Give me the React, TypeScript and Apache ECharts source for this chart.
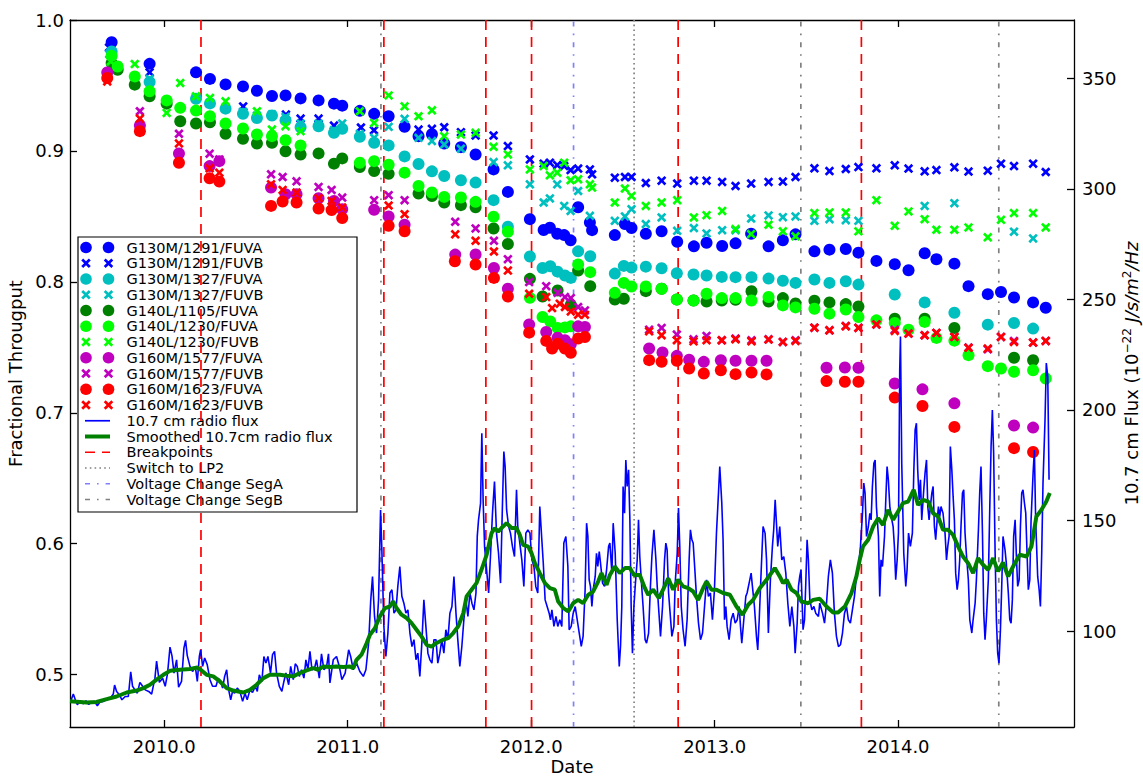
import React, { useEffect, useRef } from 'react';
import * as echarts from 'echarts';

// ---------- reference lines (decimal year) ----------
const breakpoints = [2010.2, 2011.197, 2011.753, 2012.002, 2012.801, 2013.8];
const switchLP2 = [2012.561];
const voltageSegA = [2012.231];
const voltageSegB = [2011.181, 2013.47, 2014.549];

// ---------- ticks ----------
const xTicks = [2010, 2011, 2012, 2013, 2014];
const leftTicks = [0.5, 0.6, 0.7, 0.8, 0.9, 1.0];
const rightTicks = [100, 150, 200, 250, 300, 350];

// ---------- throughput series [year, fraction] ----------
const g130m1291A = [
  [2009.713, 0.983], [2009.92, 0.9665], [2010.173, 0.96], [2010.249, 0.955], [2010.334, 0.9508], [2010.429, 0.9493],
  [2010.505, 0.946], [2010.587, 0.942], [2010.661, 0.9424], [2010.743, 0.9401], [2010.841, 0.9386], [2010.925, 0.9361],
  [2010.97, 0.9346], [2011.066, 0.9306], [2011.144, 0.9283], [2011.223, 0.9265], [2011.31, 0.9184], [2011.386, 0.9113],
  [2011.459, 0.9128], [2011.526, 0.9057], [2011.617, 0.9029], [2011.697, 0.8973], [2011.795, 0.8859], [2011.873, 0.8687],
  [2011.993, 0.8479], [2012.068, 0.8396], [2012.102, 0.8413], [2012.142, 0.8367], [2012.18, 0.8357], [2012.215, 0.8317],
  [2012.256, 0.857], [2012.32, 0.8454], [2012.332, 0.8395], [2012.456, 0.8357], [2012.511, 0.8441], [2012.547, 0.8411],
  [2012.625, 0.8367], [2012.711, 0.8386], [2012.796, 0.8306], [2012.887, 0.8271], [2012.956, 0.8299], [2013.041, 0.8274],
  [2013.114, 0.8294], [2013.199, 0.8367], [2013.294, 0.8271], [2013.372, 0.8318], [2013.441, 0.8363], [2013.544, 0.8233],
  [2013.626, 0.8246], [2013.715, 0.8251], [2013.784, 0.8223], [2013.882, 0.816], [2013.982, 0.8135], [2014.057, 0.8089],
  [2014.145, 0.8218], [2014.209, 0.8173], [2014.307, 0.8139], [2014.384, 0.7967], [2014.489, 0.7906], [2014.561, 0.7922],
  [2014.632, 0.7881], [2014.736, 0.7843], [2014.805, 0.7802],
];
const g130m1291B = [
  [2009.699, 0.979], [2009.92, 0.96], [2010.43, 0.934], [2010.663, 0.9278], [2010.743, 0.9247], [2010.841, 0.9247],
  [2010.925, 0.9194], [2011.072, 0.9179], [2011.143, 0.9158], [2011.386, 0.9163], [2011.459, 0.9169], [2011.526, 0.9181],
  [2011.617, 0.9143], [2011.697, 0.9118], [2011.795, 0.9118], [2011.873, 0.9037], [2011.993, 0.8935], [2012.068, 0.8903],
  [2012.102, 0.891], [2012.142, 0.8892], [2012.18, 0.8884], [2012.215, 0.8854], [2012.256, 0.8865], [2012.32, 0.8859],
  [2012.332, 0.8821], [2012.456, 0.8796], [2012.511, 0.8801], [2012.547, 0.8801], [2012.625, 0.8755], [2012.711, 0.8773],
  [2012.796, 0.8751], [2012.887, 0.8773], [2012.956, 0.8773], [2013.041, 0.8763], [2013.114, 0.8732], [2013.199, 0.8751],
  [2013.294, 0.8763], [2013.372, 0.8766], [2013.441, 0.8801], [2013.544, 0.8867], [2013.626, 0.8846], [2013.715, 0.8862],
  [2013.784, 0.8877], [2013.882, 0.8867], [2013.982, 0.889], [2014.057, 0.8865], [2014.145, 0.8844], [2014.209, 0.8854],
  [2014.307, 0.8875], [2014.384, 0.8842], [2014.489, 0.8849], [2014.561, 0.8903], [2014.632, 0.8884], [2014.736, 0.8903],
  [2014.805, 0.8839],
];
const g130m1327A = [
  [2009.713, 0.9759], [2009.92, 0.9526], [2010.173, 0.9399], [2010.249, 0.9363], [2010.334, 0.9323], [2010.429, 0.9283],
  [2010.505, 0.9252], [2010.587, 0.927], [2010.661, 0.9234], [2010.743, 0.9181], [2010.841, 0.9189], [2010.925, 0.9138],
  [2010.97, 0.9169], [2011.066, 0.9108], [2011.144, 0.9062], [2011.223, 0.9042], [2011.31, 0.8958], [2011.386, 0.89],
  [2011.459, 0.8844], [2011.526, 0.8808], [2011.617, 0.8776], [2011.697, 0.8758], [2011.795, 0.8624], [2011.873, 0.8421],
  [2011.993, 0.8194], [2012.062, 0.8106], [2012.104, 0.8119], [2012.144, 0.8078], [2012.184, 0.8048], [2012.216, 0.803],
  [2012.256, 0.8233], [2012.322, 0.8195], [2012.456, 0.8063], [2012.505, 0.8122], [2012.547, 0.8109], [2012.625, 0.8116],
  [2012.711, 0.8104], [2012.794, 0.8066], [2012.885, 0.8056], [2012.956, 0.8048], [2013.039, 0.8038], [2013.114, 0.8036],
  [2013.201, 0.8036], [2013.294, 0.8025], [2013.372, 0.8008], [2013.441, 0.7992], [2013.544, 0.8018], [2013.626, 0.7992],
  [2013.715, 0.8005], [2013.784, 0.7979], [2013.982, 0.7903], [2014.145, 0.7843], [2014.307, 0.7764], [2014.489, 0.7673],
  [2014.632, 0.7686], [2014.736, 0.7643],
];
const g130m1327B = [
  [2009.7, 0.974], [2009.92, 0.955], [2010.173, 0.941], [2010.249, 0.937], [2010.334, 0.933], [2010.429, 0.93],
  [2010.505, 0.927], [2010.587, 0.928], [2010.661, 0.926], [2010.743, 0.921], [2010.841, 0.921], [2010.925, 0.916],
  [2010.97, 0.921], [2011.066, 0.913], [2011.144, 0.91], [2011.223, 0.9184], [2011.31, 0.9245], [2011.386, 0.91],
  [2011.459, 0.9075], [2011.526, 0.9049], [2011.617, 0.9017], [2011.795, 0.8915], [2011.873, 0.889], [2011.993, 0.8745],
  [2012.068, 0.8606], [2012.102, 0.8637], [2012.142, 0.8745], [2012.18, 0.858], [2012.215, 0.8542], [2012.256, 0.8694],
  [2012.32, 0.8504], [2012.456, 0.8466], [2012.511, 0.85], [2012.547, 0.8555], [2012.625, 0.8441], [2012.711, 0.8492],
  [2012.796, 0.839], [2012.887, 0.8411], [2012.956, 0.837], [2013.041, 0.8395], [2013.114, 0.8395], [2013.199, 0.8484],
  [2013.294, 0.8507], [2013.372, 0.8494], [2013.441, 0.85], [2013.544, 0.8466], [2013.626, 0.8479], [2013.715, 0.8471],
  [2013.784, 0.8466], [2014.145, 0.858], [2014.307, 0.8601], [2014.632, 0.8383], [2014.736, 0.8332],
];
const g140l1105A = [
  [2009.713, 0.9671], [2009.746, 0.962], [2009.839, 0.9506], [2009.92, 0.9417], [2010.013, 0.9361], [2010.087, 0.9227],
  [2010.173, 0.9209], [2010.249, 0.9219], [2010.334, 0.9131], [2010.429, 0.9093], [2010.505, 0.9057], [2010.587, 0.9062],
  [2010.661, 0.8998], [2010.743, 0.8973], [2010.841, 0.8981], [2010.925, 0.8903], [2010.97, 0.8943], [2011.066, 0.8877],
  [2011.144, 0.8846], [2011.223, 0.8825], [2011.386, 0.8675], [2011.459, 0.8656], [2011.526, 0.8606], [2011.617, 0.8586],
  [2011.697, 0.857], [2011.795, 0.8408], [2011.873, 0.8289], [2011.993, 0.8023], [2012.062, 0.7888], [2012.144, 0.7934],
  [2012.216, 0.7825], [2012.256, 0.8086], [2012.322, 0.7967], [2012.456, 0.7865], [2012.505, 0.7871], [2012.625, 0.7929],
  [2012.711, 0.7947], [2012.794, 0.7865], [2012.885, 0.7858], [2012.956, 0.785], [2013.039, 0.7858], [2013.114, 0.7863],
  [2013.201, 0.7929], [2013.294, 0.785], [2013.372, 0.7876], [2013.441, 0.7835], [2013.544, 0.7856], [2013.626, 0.7843],
  [2013.715, 0.783], [2013.784, 0.7812], [2013.982, 0.7719], [2014.145, 0.7719], [2014.307, 0.7648], [2014.632, 0.742],
  [2014.736, 0.7401],
];
const g140l1230A = [
  [2009.713, 0.9726], [2009.746, 0.9645], [2009.839, 0.9569], [2009.92, 0.9455], [2010.013, 0.9386], [2010.087, 0.9329],
  [2010.173, 0.9308], [2010.249, 0.9265], [2010.334, 0.9209], [2010.429, 0.9171], [2010.505, 0.9125], [2010.587, 0.9113],
  [2010.661, 0.9082], [2010.743, 0.9042], [2011.066, 0.891], [2011.144, 0.8922], [2011.223, 0.8895], [2011.31, 0.8834],
  [2011.386, 0.8732], [2011.459, 0.8682], [2011.526, 0.8649], [2011.617, 0.8644], [2011.697, 0.8611], [2011.795, 0.8497],
  [2011.873, 0.8383], [2011.993, 0.7878], [2012.062, 0.7732], [2012.104, 0.7698], [2012.144, 0.7648], [2012.184, 0.7652],
  [2012.216, 0.766], [2012.256, 0.8132], [2012.322, 0.8074], [2012.456, 0.7916], [2012.505, 0.7992], [2012.547, 0.7964],
  [2012.625, 0.7964], [2012.711, 0.7947], [2012.794, 0.7865], [2012.885, 0.7858], [2012.956, 0.7909], [2013.039, 0.7876],
  [2013.114, 0.7876], [2013.201, 0.7858], [2013.294, 0.7884], [2013.372, 0.782], [2013.441, 0.7805], [2013.544, 0.7795],
  [2013.626, 0.7757], [2013.715, 0.7789], [2013.784, 0.7732], [2013.882, 0.7706], [2013.982, 0.7686], [2014.057, 0.7635],
  [2014.145, 0.7694], [2014.209, 0.7572], [2014.307, 0.7551], [2014.384, 0.744], [2014.489, 0.7356], [2014.561, 0.7338],
  [2014.632, 0.7313], [2014.736, 0.7325], [2014.805, 0.7262],
];
const g140l1230B = [
  [2009.708, 0.9683], [2009.839, 0.9663], [2010.013, 0.929], [2010.087, 0.9519], [2010.173, 0.9417], [2010.249, 0.9405],
  [2010.334, 0.9379], [2010.505, 0.9303], [2010.587, 0.9163], [2010.661, 0.9189], [2010.743, 0.9151], [2011.066, 0.9303],
  [2011.144, 0.9214], [2011.223, 0.9424], [2011.31, 0.9341], [2011.386, 0.9265], [2011.459, 0.931], [2011.526, 0.9113],
  [2011.617, 0.9125], [2011.697, 0.9138], [2011.795, 0.9032], [2011.873, 0.8973], [2011.993, 0.8859], [2012.068, 0.8884],
  [2012.102, 0.8814], [2012.142, 0.8834], [2012.18, 0.891], [2012.215, 0.8776], [2012.256, 0.8783], [2012.32, 0.8745],
  [2012.332, 0.872], [2012.456, 0.8606], [2012.511, 0.8713], [2012.547, 0.8656], [2012.625, 0.858], [2012.711, 0.8606],
  [2012.796, 0.8624], [2012.887, 0.8492], [2012.956, 0.8509], [2013.041, 0.8542], [2013.114, 0.8403], [2013.199, 0.8365],
  [2013.294, 0.8436], [2013.372, 0.8386], [2013.441, 0.8348], [2013.544, 0.8525], [2013.626, 0.853], [2013.715, 0.853],
  [2013.784, 0.8386], [2013.882, 0.8624], [2013.982, 0.8428], [2014.057, 0.8538], [2014.145, 0.8479], [2014.209, 0.8398],
  [2014.307, 0.8398], [2014.384, 0.8416], [2014.489, 0.834], [2014.561, 0.8474], [2014.632, 0.8525], [2014.736, 0.8525],
  [2014.805, 0.8416],
];
const g160m1577A = [
  [2009.689, 0.9599], [2009.867, 0.9194], [2010.08, 0.8981], [2010.247, 0.8884], [2010.3, 0.8922], [2010.582, 0.872],
  [2010.661, 0.8669], [2010.721, 0.8669], [2010.841, 0.8639], [2010.925, 0.8618], [2010.97, 0.8555], [2011.144, 0.855],
  [2011.223, 0.85], [2011.31, 0.8436], [2011.586, 0.8208], [2011.697, 0.8209], [2011.797, 0.8106], [2011.873, 0.7947],
  [2011.989, 0.7675], [2012.082, 0.7617], [2012.144, 0.7574], [2012.184, 0.7554], [2012.216, 0.7523], [2012.256, 0.766],
  [2012.293, 0.7656], [2012.643, 0.7491], [2012.716, 0.746], [2012.794, 0.7435], [2012.861, 0.7405], [2012.941, 0.7389],
  [2013.034, 0.7402], [2013.114, 0.7397], [2013.201, 0.7397], [2013.283, 0.7397], [2013.61, 0.7344], [2013.71, 0.7346],
  [2013.784, 0.7344], [2013.982, 0.7224], [2014.133, 0.7179], [2014.307, 0.7072], [2014.632, 0.6903], [2014.736, 0.6887],
];
const g160m1577B = [
  [2009.867, 0.9303], [2010.08, 0.9131], [2010.247, 0.8979], [2010.3, 0.8935], [2010.582, 0.8821], [2010.645, 0.8801],
  [2010.721, 0.8768], [2010.841, 0.8725], [2010.912, 0.8702], [2010.97, 0.8644], [2011.144, 0.8624], [2011.223, 0.8662],
  [2011.31, 0.8624], [2011.586, 0.8459], [2011.697, 0.8408], [2011.797, 0.8314], [2011.873, 0.8173], [2011.989, 0.7998],
  [2012.082, 0.7967], [2012.144, 0.7916], [2012.184, 0.7884], [2012.216, 0.7876], [2012.256, 0.7808], [2012.293, 0.7782],
  [2012.643, 0.7635], [2012.711, 0.7648], [2012.794, 0.7597], [2012.885, 0.7561], [2012.956, 0.7587], [2013.039, 0.7554],
  [2013.114, 0.7567], [2013.201, 0.7554], [2013.294, 0.7561], [2013.372, 0.7541], [2013.441, 0.7554], [2013.544, 0.765],
  [2013.626, 0.763], [2013.715, 0.7663], [2013.784, 0.765], [2013.882, 0.7675], [2013.982, 0.7635], [2014.057, 0.7605],
  [2014.145, 0.7592], [2014.209, 0.761], [2014.307, 0.7579], [2014.384, 0.7498], [2014.489, 0.7485], [2014.561, 0.7579],
  [2014.632, 0.7549], [2014.736, 0.7536], [2014.805, 0.7549],
];
const g160m1623A = [
  [2009.689, 0.9557], [2009.867, 0.9151], [2010.08, 0.891], [2010.247, 0.8791], [2010.3, 0.8766], [2010.582, 0.858],
  [2010.645, 0.8614], [2010.721, 0.8606], [2010.841, 0.856], [2010.912, 0.8548], [2010.97, 0.8487], [2011.223, 0.8428],
  [2011.31, 0.8386], [2011.584, 0.8157], [2011.697, 0.8132], [2011.797, 0.803], [2011.873, 0.7888], [2011.989, 0.7612],
  [2012.082, 0.7549], [2012.114, 0.749], [2012.144, 0.7528], [2012.184, 0.749], [2012.216, 0.7458], [2012.256, 0.7567],
  [2012.293, 0.7579], [2012.643, 0.7402], [2012.711, 0.7389], [2012.794, 0.7397], [2012.861, 0.7338], [2012.941, 0.73],
  [2013.034, 0.7325], [2013.114, 0.7295], [2013.201, 0.7308], [2013.283, 0.7293], [2013.61, 0.7242], [2013.71, 0.7237],
  [2013.784, 0.7237], [2013.982, 0.7116], [2014.133, 0.7052], [2014.307, 0.6892], [2014.632, 0.673], [2014.736, 0.67],
];
const g160m1623B = [
  [2009.689, 0.9531], [2009.867, 0.9247], [2010.08, 0.9057], [2010.247, 0.8867], [2010.3, 0.8834], [2010.582, 0.8745],
  [2010.645, 0.8702], [2010.721, 0.8682], [2010.841, 0.8639], [2010.912, 0.8618], [2010.97, 0.8568], [2011.223, 0.8583],
  [2011.31, 0.8517], [2011.586, 0.8363], [2011.697, 0.8314], [2011.797, 0.8232], [2011.873, 0.8086], [2011.989, 0.7909],
  [2012.082, 0.7884], [2012.114, 0.78], [2012.156, 0.7833], [2012.184, 0.7808], [2012.216, 0.7774], [2012.256, 0.7749],
  [2012.293, 0.7749], [2012.643, 0.7622], [2012.711, 0.7592], [2012.794, 0.7554], [2012.885, 0.7546], [2012.956, 0.7554],
  [2013.039, 0.7554], [2013.114, 0.7561], [2013.201, 0.7546], [2013.294, 0.7559], [2013.372, 0.7541], [2013.441, 0.7549],
  [2013.544, 0.765], [2013.626, 0.763], [2013.715, 0.766], [2013.784, 0.7648], [2013.882, 0.7675], [2013.982, 0.7625],
  [2014.057, 0.7605], [2014.145, 0.7592], [2014.209, 0.761], [2014.307, 0.7579], [2014.384, 0.7496], [2014.489, 0.749],
  [2014.561, 0.7579], [2014.632, 0.7541], [2014.736, 0.7536], [2014.805, 0.7549],
];

// ---------- 10.7 cm radio flux [year, flux] ----------
const radioFlux = [
  [2009.49, 68.2], [2009.504, 71.5], [2009.515, 68.9], [2009.526, 66.7], [2009.54, 68.2], [2009.559, 67.1], [2009.573, 68.5],
  [2009.588, 66.8], [2009.604, 67.7], [2009.619, 68.2], [2009.635, 66.2], [2009.649, 67.9], [2009.668, 68.2], [2009.686, 68.9],
  [2009.704, 69.4], [2009.722, 71.5], [2009.729, 75.6], [2009.74, 72.7], [2009.755, 71.2], [2009.769, 68.9], [2009.787, 70.4],
  [2009.804, 70.4], [2009.817, 81.6], [2009.827, 75.0], [2009.84, 73.4], [2009.853, 71.9], [2009.867, 76.8], [2009.882, 75.0],
  [2009.896, 73.4], [2009.915, 72.7], [2009.931, 71.5], [2009.949, 78.7], [2009.958, 86.4], [2009.973, 76.8], [2009.991, 78.7],
  [2010.005, 75.0], [2010.018, 81.0], [2010.031, 92.7], [2010.042, 88.8], [2010.053, 81.0], [2010.067, 87.0], [2010.078, 74.6],
  [2010.094, 77.2], [2010.107, 92.3], [2010.116, 95.8], [2010.125, 89.0], [2010.14, 84.0], [2010.154, 81.7], [2010.169, 84.0],
  [2010.18, 77.2], [2010.191, 88.5], [2010.198, 91.5], [2010.209, 84.0], [2010.22, 87.8], [2010.234, 84.8], [2010.249, 78.0],
  [2010.263, 75.0], [2010.282, 75.0], [2010.294, 78.7], [2010.307, 77.2], [2010.318, 74.2], [2010.329, 79.5], [2010.34, 82.5],
  [2010.351, 73.4], [2010.362, 68.9], [2010.372, 72.7], [2010.383, 71.9], [2010.398, 74.2], [2010.412, 72.7], [2010.427, 68.2],
  [2010.44, 71.9], [2010.452, 68.9], [2010.467, 73.4], [2010.481, 72.2], [2010.496, 75.0], [2010.507, 72.7], [2010.518, 80.2],
  [2010.532, 77.2], [2010.543, 88.5], [2010.554, 85.5], [2010.565, 88.5], [2010.579, 81.0], [2010.59, 89.3], [2010.601, 90.8],
  [2010.612, 81.0], [2010.627, 75.0], [2010.641, 72.7], [2010.652, 77.2], [2010.663, 81.0], [2010.678, 75.7], [2010.689, 84.0],
  [2010.703, 78.0], [2010.714, 85.2], [2010.725, 84.0], [2010.736, 79.5], [2010.748, 82.5], [2010.761, 78.7], [2010.772, 87.0],
  [2010.783, 82.5], [2010.794, 90.8], [2010.805, 82.5], [2010.819, 83.2], [2010.83, 87.0], [2010.845, 78.7], [2010.857, 89.7],
  [2010.87, 82.5], [2010.885, 84.0], [2010.895, 89.7], [2010.903, 76.5], [2010.921, 87.0], [2010.939, 88.5], [2010.954, 84.0],
  [2010.968, 78.0], [2010.986, 81.0], [2011.005, 91.5], [2011.016, 88.5], [2011.03, 82.5], [2011.048, 85.5], [2011.066, 81.7],
  [2011.085, 79.5], [2011.099, 82.5], [2011.114, 94.6], [2011.125, 113.4], [2011.135, 124.7], [2011.146, 106.6], [2011.157, 99.1],
  [2011.168, 114.1], [2011.179, 154.8], [2011.186, 136.7], [2011.197, 102.1], [2011.208, 88.5], [2011.219, 99.1], [2011.23, 117.2],
  [2011.241, 118.7], [2011.252, 108.1], [2011.263, 109.6], [2011.273, 120.2], [2011.284, 129.2], [2011.295, 115.7], [2011.306, 112.6],
  [2011.317, 108.1], [2011.328, 109.6], [2011.339, 99.1], [2011.35, 93.0], [2011.361, 96.1], [2011.372, 87.0], [2011.382, 90.0],
  [2011.393, 79.5], [2011.404, 94.6], [2011.415, 114.1], [2011.426, 102.1], [2011.437, 90.0], [2011.448, 87.0], [2011.459, 85.5],
  [2011.47, 96.1], [2011.481, 96.1], [2011.491, 85.5], [2011.502, 90.0], [2011.513, 96.1], [2011.524, 90.0], [2011.535, 100.6],
  [2011.546, 96.1], [2011.557, 108.1], [2011.568, 111.1], [2011.579, 124.7], [2011.59, 108.1], [2011.6, 96.1], [2011.611, 84.0],
  [2011.622, 93.0], [2011.633, 105.1], [2011.644, 114.1], [2011.655, 106.6], [2011.666, 117.2], [2011.677, 112.6], [2011.688, 109.6],
  [2011.699, 117.2], [2011.706, 142.8], [2011.713, 150.3], [2011.724, 157.8], [2011.731, 189.5], [2011.738, 159.3], [2011.746, 138.2],
  [2011.757, 127.7], [2011.768, 117.2], [2011.778, 133.7], [2011.789, 153.3], [2011.8, 167.6], [2011.811, 144.3], [2011.822, 135.2],
  [2011.833, 121.7], [2011.844, 159.3], [2011.851, 181.2], [2011.858, 174.4], [2011.866, 154.8], [2011.877, 147.3], [2011.887, 144.3],
  [2011.898, 138.2], [2011.909, 133.7], [2011.92, 163.9], [2011.927, 147.3], [2011.938, 139.8], [2011.949, 132.2], [2011.96, 120.2],
  [2011.971, 144.3], [2011.982, 145.8], [2011.993, 144.3], [2012.004, 132.2], [2012.015, 129.2], [2012.025, 120.2], [2012.036, 117.2],
  [2012.047, 156.3], [2012.058, 141.3], [2012.066, 130.7], [2012.076, 114.1], [2012.087, 111.1], [2012.098, 108.1], [2012.105, 105.1],
  [2012.113, 109.6], [2012.124, 102.1], [2012.135, 106.6], [2012.145, 102.1], [2012.156, 105.1], [2012.167, 102.1], [2012.178, 139.8],
  [2012.189, 142.8], [2012.2, 129.2], [2012.207, 100.6], [2012.218, 102.1], [2012.229, 108.1], [2012.24, 111.1], [2012.251, 105.1],
  [2012.262, 99.1], [2012.273, 93.1], [2012.283, 97.6], [2012.294, 118.7], [2012.302, 148.8], [2012.309, 142.8], [2012.316, 123.2],
  [2012.323, 120.2], [2012.331, 111.1], [2012.338, 118.7], [2012.349, 124.7], [2012.356, 135.2], [2012.363, 129.2], [2012.371, 136.0],
  [2012.378, 130.7], [2012.389, 121.7], [2012.4, 120.2], [2012.411, 127.7], [2012.422, 138.3], [2012.429, 139.8], [2012.44, 126.2],
  [2012.447, 148.8], [2012.458, 135.2], [2012.469, 105.1], [2012.48, 84.0], [2012.487, 93.1], [2012.494, 111.1], [2012.501, 165.4],
  [2012.509, 153.3], [2012.516, 177.4], [2012.523, 165.4], [2012.531, 172.9], [2012.538, 150.3], [2012.545, 111.1], [2012.552, 90.0],
  [2012.56, 111.1], [2012.567, 120.2], [2012.578, 132.2], [2012.585, 150.3], [2012.592, 133.7], [2012.6, 123.2], [2012.61, 111.1],
  [2012.621, 96.1], [2012.629, 94.5], [2012.64, 99.1], [2012.65, 120.2], [2012.658, 133.7], [2012.669, 145.8], [2012.68, 132.2],
  [2012.687, 120.2], [2012.694, 111.1], [2012.705, 97.6], [2012.716, 111.1], [2012.727, 132.2], [2012.734, 139.8], [2012.741, 136.8],
  [2012.749, 117.2], [2012.756, 109.6], [2012.767, 97.6], [2012.778, 102.1], [2012.785, 121.7], [2012.796, 135.2], [2012.803, 155.6],
  [2012.81, 138.3], [2012.818, 111.1], [2012.828, 100.6], [2012.839, 93.1], [2012.85, 105.1], [2012.861, 132.2], [2012.868, 145.8],
  [2012.876, 141.3], [2012.883, 139.8], [2012.89, 130.7], [2012.901, 115.7], [2012.912, 103.6], [2012.923, 96.1], [2012.934, 99.1],
  [2012.945, 111.1], [2012.956, 123.2], [2012.966, 115.7], [2012.977, 117.2], [2012.988, 105.1], [2012.999, 118.7], [2013.01, 144.3],
  [2013.021, 162.4], [2013.028, 174.4], [2013.039, 157.9], [2013.046, 141.3], [2013.054, 105.1], [2013.061, 111.1], [2013.068, 102.1],
  [2013.079, 96.1], [2013.09, 105.1], [2013.101, 108.1], [2013.112, 103.6], [2013.123, 105.1], [2013.134, 111.1], [2013.141, 102.1],
  [2013.148, 94.5], [2013.159, 105.1], [2013.17, 115.7], [2013.177, 117.2], [2013.188, 121.7], [2013.199, 126.2], [2013.206, 120.2],
  [2013.217, 111.1], [2013.228, 97.6], [2013.235, 91.5], [2013.243, 105.1], [2013.254, 127.7], [2013.264, 147.3], [2013.275, 144.3],
  [2013.283, 132.2], [2013.293, 99.1], [2013.304, 123.2], [2013.315, 138.3], [2013.322, 145.8], [2013.33, 159.4], [2013.337, 148.8],
  [2013.344, 138.3], [2013.355, 147.3], [2013.366, 132.2], [2013.377, 133.7], [2013.388, 126.2], [2013.399, 112.6], [2013.41, 102.1],
  [2013.421, 111.1], [2013.432, 102.1], [2013.439, 90.0], [2013.45, 103.6], [2013.457, 120.2], [2013.464, 124.7], [2013.471, 127.7],
  [2013.482, 100.6], [2013.49, 105.1], [2013.497, 121.7], [2013.504, 141.3], [2013.511, 132.2], [2013.519, 114.1], [2013.53, 109.6],
  [2013.541, 111.1], [2013.551, 108.1], [2013.566, 106.6], [2013.573, 112.6], [2013.588, 108.1], [2013.599, 103.6], [2013.61, 112.6],
  [2013.62, 124.7], [2013.631, 132.2], [2013.642, 126.2], [2013.653, 108.1], [2013.664, 97.6], [2013.675, 93.0], [2013.686, 93.8],
  [2013.697, 99.1], [2013.708, 108.1], [2013.719, 111.1], [2013.729, 105.1], [2013.74, 103.6], [2013.751, 109.6], [2013.762, 115.6],
  [2013.773, 124.7], [2013.784, 129.2], [2013.795, 138.3], [2013.806, 153.3], [2013.813, 166.9], [2013.82, 162.4], [2013.828, 142.8],
  [2013.838, 147.3], [2013.846, 153.3], [2013.853, 150.3], [2013.86, 165.4], [2013.868, 175.9], [2013.875, 177.4], [2013.882, 156.3],
  [2013.893, 142.8], [2013.9, 115.6], [2013.907, 132.2], [2013.915, 129.2], [2013.926, 142.8], [2013.933, 159.3], [2013.94, 174.4],
  [2013.947, 168.4], [2013.955, 156.3], [2013.966, 150.3], [2013.973, 147.3], [2013.98, 138.3], [2013.987, 123.2], [2013.995, 132.2],
  [2014.002, 144.3], [2014.009, 218.1], [2014.013, 233.2], [2014.02, 175.9], [2014.031, 135.2], [2014.042, 120.2], [2014.049, 127.7],
  [2014.057, 144.3], [2014.067, 138.3], [2014.078, 144.3], [2014.086, 172.9], [2014.093, 191.0], [2014.1, 194.0], [2014.107, 172.9],
  [2014.115, 159.3], [2014.122, 168.4], [2014.129, 150.3], [2014.14, 163.9], [2014.147, 171.4], [2014.155, 177.4], [2014.162, 156.3],
  [2014.169, 150.3], [2014.176, 156.3], [2014.184, 162.4], [2014.191, 165.4], [2014.198, 147.3], [2014.205, 141.3], [2014.213, 150.3],
  [2014.22, 156.3], [2014.227, 151.8], [2014.234, 156.3], [2014.245, 153.3], [2014.256, 144.3], [2014.264, 132.2], [2014.271, 138.3],
  [2014.278, 142.8], [2014.285, 183.5], [2014.293, 172.9], [2014.3, 160.9], [2014.307, 150.3], [2014.314, 126.2], [2014.322, 118.7],
  [2014.329, 123.2], [2014.336, 132.2], [2014.343, 147.3], [2014.351, 162.4], [2014.358, 163.9], [2014.365, 144.3], [2014.372, 135.2],
  [2014.383, 123.2], [2014.391, 105.1], [2014.402, 99.1], [2014.409, 105.1], [2014.42, 112.6], [2014.427, 123.2], [2014.438, 145.8],
  [2014.445, 162.4], [2014.452, 174.4], [2014.46, 144.3], [2014.467, 108.1], [2014.474, 96.1], [2014.481, 105.1], [2014.492, 123.2],
  [2014.5, 156.3], [2014.507, 183.5], [2014.514, 200.0], [2014.521, 180.4], [2014.529, 135.2], [2014.536, 105.1], [2014.543, 90.0],
  [2014.55, 85.5], [2014.558, 100.6], [2014.565, 120.2], [2014.572, 142.8], [2014.583, 136.7], [2014.59, 130.7], [2014.601, 117.2],
  [2014.609, 105.1], [2014.616, 103.6], [2014.623, 114.1], [2014.63, 142.8], [2014.638, 150.3], [2014.645, 133.7], [2014.652, 120.2],
  [2014.66, 123.2], [2014.667, 147.3], [2014.674, 162.4], [2014.681, 163.9], [2014.689, 157.8], [2014.696, 153.3], [2014.703, 135.2],
  [2014.71, 118.7], [2014.718, 123.2], [2014.725, 150.3], [2014.736, 171.4], [2014.743, 181.9], [2014.75, 150.3], [2014.761, 124.7],
  [2014.769, 118.7], [2014.776, 111.1], [2014.783, 135.2], [2014.79, 166.9], [2014.801, 195.5], [2014.808, 221.2], [2014.816, 215.1],
  [2014.823, 168.4],
];

const smoothedFlux = [
  [2009.486, 68.2], [2009.577, 67.7], [2009.631, 67.9], [2009.686, 69.2], [2009.74, 70.4], [2009.795, 72.2], [2009.849, 73.1],
  [2009.886, 74.2], [2009.922, 75.7], [2009.958, 78.0], [2009.995, 80.2], [2010.031, 82.0], [2010.085, 82.5], [2010.14, 82.8],
  [2010.18, 83.5], [2010.203, 82.2], [2010.231, 80.2], [2010.267, 79.5], [2010.303, 77.2], [2010.34, 74.2], [2010.376, 73.1],
  [2010.431, 72.2], [2010.467, 73.4], [2010.503, 75.7], [2010.54, 78.7], [2010.576, 80.2], [2010.63, 80.2], [2010.667, 79.8],
  [2010.703, 79.5], [2010.739, 81.0], [2010.776, 82.2], [2010.812, 83.2], [2010.839, 82.5], [2010.867, 84.0], [2010.903, 83.7],
  [2010.939, 84.0], [2010.976, 83.7], [2011.012, 84.0], [2011.03, 83.2], [2011.048, 87.0], [2011.075, 89.3], [2011.103, 94.5],
  [2011.121, 98.3], [2011.148, 101.3], [2011.175, 106.6], [2011.203, 110.4], [2011.23, 111.1], [2011.248, 113.4], [2011.266, 110.4],
  [2011.293, 107.4], [2011.321, 105.9], [2011.348, 103.6], [2011.375, 100.6], [2011.402, 97.6], [2011.43, 93.8], [2011.457, 93.0],
  [2011.484, 94.6], [2011.521, 96.1], [2011.548, 96.8], [2011.575, 99.1], [2011.602, 102.1], [2011.63, 108.1], [2011.648, 115.7],
  [2011.675, 118.7], [2011.702, 121.7], [2011.729, 127.7], [2011.757, 134.5], [2011.784, 144.3], [2011.802, 146.6], [2011.82, 145.0],
  [2011.838, 146.6], [2011.866, 148.8], [2011.893, 146.6], [2011.92, 146.6], [2011.938, 143.5], [2011.956, 139.0], [2011.984, 138.2],
  [2012.002, 135.2], [2012.02, 130.7], [2012.047, 126.2], [2012.075, 121.7], [2012.102, 119.4], [2012.129, 118.7], [2012.147, 113.4],
  [2012.175, 110.4], [2012.202, 108.9], [2012.229, 112.6], [2012.256, 114.1], [2012.283, 112.6], [2012.311, 116.4], [2012.338, 117.9],
  [2012.365, 122.4], [2012.383, 126.2], [2012.411, 120.9], [2012.429, 125.4], [2012.456, 129.2], [2012.483, 126.2], [2012.511, 128.5],
  [2012.538, 128.5], [2012.56, 125.4], [2012.592, 125.4], [2012.62, 119.4], [2012.638, 116.4], [2012.665, 118.7], [2012.696, 114.9],
  [2012.719, 118.7], [2012.747, 123.9], [2012.774, 118.7], [2012.801, 123.2], [2012.828, 120.2], [2012.856, 119.4], [2012.883, 117.9],
  [2012.91, 114.1], [2012.937, 119.4], [2012.956, 122.4], [2012.983, 118.7], [2013.01, 118.7], [2013.046, 117.2], [2013.083, 116.4],
  [2013.119, 111.1], [2013.152, 107.4], [2013.183, 111.9], [2013.21, 114.1], [2013.246, 119.4], [2013.283, 123.2], [2013.328, 128.5],
  [2013.355, 124.7], [2013.373, 121.7], [2013.392, 123.2], [2013.419, 118.7], [2013.446, 117.2], [2013.473, 113.4], [2013.51, 112.6],
  [2013.537, 114.1], [2013.573, 114.6], [2013.61, 111.1], [2013.646, 108.4], [2013.673, 108.4], [2013.71, 111.1], [2013.746, 117.2],
  [2013.773, 124.7], [2013.791, 132.2], [2013.809, 138.3], [2013.837, 141.3], [2013.864, 147.3], [2013.891, 151.0], [2013.918, 148.0],
  [2013.946, 154.8], [2013.973, 150.3], [2014.0, 154.1], [2014.027, 157.9], [2014.055, 158.6], [2014.085, 163.9], [2014.109, 157.1],
  [2014.136, 159.3], [2014.164, 158.6], [2014.191, 153.3], [2014.218, 151.8], [2014.245, 145.8], [2014.273, 145.8], [2014.3, 143.5],
  [2014.327, 138.3], [2014.354, 133.7], [2014.382, 130.7], [2014.409, 126.2], [2014.436, 133.0], [2014.463, 130.0], [2014.491, 127.7],
  [2014.518, 133.0], [2014.545, 127.0], [2014.572, 131.0], [2014.6, 124.7], [2014.627, 129.2], [2014.663, 134.5], [2014.7, 133.7],
  [2014.727, 138.3], [2014.754, 151.8], [2014.781, 154.8], [2014.808, 158.6], [2014.827, 162.4],
];

// ---------- styling ----------
const FONT = 'DejaVu Sans';
const X_MIN = 2009.486;
const X_MAX = 2014.959;
const Y_MIN = 0.46;
const Y_MAX = 1.0;
const F_MIN = 56.6;
const F_MAX = 376.4;
const CROSS = 'path://M2,0L5,3L8,0L10,2L7,5L10,8L8,10L5,7L2,10L0,8L3,5L0,2Z';

const BLUE = '#0000ff';
const CYAN = '#00bfbf';
const DGREEN = '#008000';
const LIME = '#00ff00';
const MAGENTA = '#bf00bf';
const RED = '#ff0000';

const DASHED = [10, 7];
const DOTTED = [1.6, 3.2];
const DASHDOT = [5, 7, 1.6, 7];

const scatterDefs = [
  { name: 'G130M/1291/FUVA', data: g130m1291A, color: BLUE, cross: false },
  { name: 'G130M/1291/FUVB', data: g130m1291B, color: BLUE, cross: true },
  { name: 'G130M/1327/FUVA', data: g130m1327A, color: CYAN, cross: false },
  { name: 'G130M/1327/FUVB', data: g130m1327B, color: CYAN, cross: true },
  { name: 'G140L/1105/FUVA', data: g140l1105A, color: DGREEN, cross: false },
  { name: 'G140L/1230/FUVA', data: g140l1230A, color: LIME, cross: false },
  { name: 'G140L/1230/FUVB', data: g140l1230B, color: LIME, cross: true },
  { name: 'G160M/1577/FUVA', data: g160m1577A, color: MAGENTA, cross: false },
  { name: 'G160M/1577/FUVB', data: g160m1577B, color: MAGENTA, cross: true },
  { name: 'G160M/1623/FUVA', data: g160m1623A, color: RED, cross: false },
  { name: 'G160M/1623/FUVB', data: g160m1623B, color: RED, cross: true },
];

const vlineDefs = [
  { name: 'Breakpoints', xs: breakpoints, color: RED, dash: DASHED },
  { name: 'Switch to LP2', xs: switchLP2, color: '#808080', dash: DOTTED },
  { name: 'Voltage Change SegA', xs: voltageSegA, color: '#8080ff', dash: DASHDOT },
  { name: 'Voltage Change SegB', xs: voltageSegB, color: '#808080', dash: DASHDOT },
];

function buildLegend() {
  const left = 78, top = 237, w = 279, h = 275;
  const rowY0 = 247.5, rowStep = 15.75;
  const m1 = 86, m2 = 108.5, textX = 126.5;
  const children: any[] = [
    { type: 'rect', shape: { x: left, y: top, width: w, height: h }, style: { fill: '#ffffff', stroke: '#000000', lineWidth: 1.2 } },
  ];
  const crossPts = (cx: number, cy: number, s: number) => {
    const u = [[2,0],[5,3],[8,0],[10,2],[7,5],[10,8],[8,10],[5,7],[2,10],[0,8],[3,5],[0,2]];
    return u.map(([a, b]) => [cx + (a - 5) * s / 10, cy + (b - 5) * s / 10]);
  };
  const textStyle = (t: string) => ({
    text: t, font: `14.5px "${FONT}"`, fill: '#000', verticalAlign: 'middle', align: 'left', lineHeight: 13,
  });
  scatterDefs.forEach((d, i) => {
    const y = rowY0 + i * rowStep;
    [m1, m2].forEach((mx) => {
      if (d.cross) {
        children.push({ type: 'polygon', shape: { points: crossPts(mx, y, 9.5) }, style: { fill: d.color } });
      } else {
        children.push({ type: 'circle', shape: { cx: mx, cy: y, r: 5.8 }, style: { fill: d.color } });
      }
    });
    children.push({ type: 'text', x: textX, y, style: textStyle(d.name) });
  });
  const lineEntries = [
    { name: '10.7 cm radio flux', color: BLUE, width: 1.7, dash: null as any },
    { name: 'Smoothed 10.7cm radio flux', color: DGREEN, width: 4, dash: null as any },
    { name: 'Breakpoints', color: RED, width: 1.7, dash: DASHED },
    { name: 'Switch to LP2', color: '#808080', width: 1.7, dash: DOTTED },
    { name: 'Voltage Change SegA', color: '#8080ff', width: 1.7, dash: DASHDOT },
    { name: 'Voltage Change SegB', color: '#808080', width: 1.7, dash: DASHDOT },
  ];
  lineEntries.forEach((e, j) => {
    const y = rowY0 + (scatterDefs.length + j) * rowStep;
    const style: any = { stroke: e.color, lineWidth: e.width };
    if (e.dash) style.lineDash = e.dash;
    children.push({ type: 'line', shape: { x1: 85, y1: y, x2: 110, y2: y }, style });
    children.push({ type: 'text', x: textX, y, style: textStyle(e.name) });
  });
  return { type: 'group', z: 100, children };
}

export default function App() {
  const ref = useRef<HTMLDivElement>(null);
  useEffect(() => {
    document.body.style.margin = '0';
    if (!ref.current) return;
    const chart = echarts.init(ref.current, null, { renderer: 'svg' });
    const axisLineStyle = { color: '#000', width: 1.3 };
    const labelStyle = { color: '#000', fontFamily: FONT, fontSize: 18 };

    const series: any[] = [];
    vlineDefs.forEach((v) => {
      v.xs.forEach((x) => {
        series.push({
          type: 'line', name: v.name, xAxisIndex: 0, yAxisIndex: 0, silent: true, symbol: 'none', z: 1,
          data: [[x, Y_MIN], [x, Y_MAX]],
          lineStyle: { color: v.color, width: 1.7, type: v.dash },
        });
      });
    });
    scatterDefs.forEach((d) => {
      series.push({
        type: 'scatter', name: d.name, xAxisIndex: 0, yAxisIndex: 0, z: 2,
        symbol: d.cross ? CROSS : 'circle', symbolSize: d.cross ? 9.5 : 12,
        itemStyle: { color: d.color, opacity: 1 },
        data: d.data,
      });
    });
    series.push({
      type: 'line', name: '10.7 cm radio flux', xAxisIndex: 0, yAxisIndex: 1, z: 3, showSymbol: false, symbol: 'none',
      lineStyle: { color: BLUE, width: 1.6 }, data: radioFlux,
    });
    series.push({
      type: 'line', name: 'Smoothed 10.7cm radio flux', xAxisIndex: 0, yAxisIndex: 1, z: 4, showSymbol: false, symbol: 'none',
      lineStyle: { color: DGREEN, width: 4 }, data: smoothedFlux,
    });

    chart.setOption({
      animation: false,
      backgroundColor: '#ffffff',
      grid: { left: 70, top: 20, right: 69, bottom: 50, containLabel: false, outerBoundsMode: 'none' },
      xAxis: [
        {
          type: 'value', min: X_MIN, max: X_MAX, position: 'bottom',
          name: 'Date', nameLocation: 'middle', nameGap: 30, nameMoveOverlap: false,
          nameTextStyle: { ...labelStyle, lineHeight: 18 },
          axisLine: { show: true, onZero: false, lineStyle: axisLineStyle },
          axisTick: { show: true, inside: true, length: 7, customValues: xTicks, lineStyle: { color: '#000', width: 1.3 } },
          axisLabel: { ...labelStyle, margin: 10, customValues: xTicks, formatter: (v: number) => v.toFixed(1) },
          splitLine: { show: false },
        },
        {
          type: 'value', min: X_MIN, max: X_MAX, position: 'top',
          axisLine: { show: true, onZero: false, lineStyle: axisLineStyle },
          axisTick: { show: true, inside: true, length: 7, customValues: xTicks, lineStyle: { color: '#000', width: 1.3 } },
          axisLabel: { show: false },
          splitLine: { show: false },
        },
      ],
      yAxis: [
        {
          type: 'value', min: Y_MIN, max: Y_MAX, position: 'left',
          name: 'Fractional Througput', nameLocation: 'middle', nameGap: 44, nameRotate: 90,
          nameTextStyle: { ...labelStyle },
          axisLine: { show: true, onZero: false, lineStyle: axisLineStyle },
          axisTick: { show: true, inside: true, length: 7, customValues: leftTicks, lineStyle: { color: '#000', width: 1.3 } },
          axisLabel: { ...labelStyle, margin: 6, customValues: leftTicks, formatter: (v: number) => v.toFixed(1) },
          splitLine: { show: false },
        },
        {
          type: 'value', min: F_MIN, max: F_MAX, position: 'right',
          name: '10.7 cm Flux (10{sup|−22} {it|J/s/m}{sup|2}{it|/Hz}', nameLocation: 'middle', nameGap: 47, nameRotate: 90,
          nameMoveOverlap: false,
          nameTextStyle: {
            ...labelStyle,
            lineHeight: 20,
            rich: {
              sup: { fontFamily: FONT, fontSize: 12, color: '#000', verticalAlign: 'top', lineHeight: 20 },
              it: { fontFamily: FONT, fontSize: 18, fontStyle: 'italic', color: '#000', lineHeight: 20 },
            },
          },
          axisLine: { show: true, onZero: false, lineStyle: axisLineStyle },
          axisTick: { show: true, inside: true, length: 7, customValues: rightTicks, lineStyle: { color: '#000', width: 1.3 } },
          axisLabel: { ...labelStyle, margin: 8, customValues: rightTicks, formatter: (v: number) => String(v) },
          splitLine: { show: false },
        },
      ],
      graphic: [buildLegend()],
      series,
    });
    return () => chart.dispose();
  }, []);
  return <div ref={ref} style={{ width: 1143, height: 777 }} />;
}
